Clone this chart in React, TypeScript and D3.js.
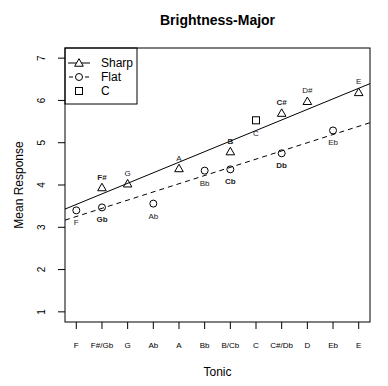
import * as d3 from 'd3'
import React from 'react'

const tonics = ['F', 'F#/Gb', 'G', 'Ab', 'A', 'Bb', 'B/Cb', 'C', 'C#/Db', 'D', 'Eb', 'E']
const yTicks = [1, 2, 3, 4, 5, 6, 7]

// sharp keys: position on the tonic axis (1-based), mean response, label, bold label
const sharpX = [2, 3, 5, 7, 9, 10, 12]
const sharpY = [3.94, 4.03, 4.39, 4.79, 5.7, 5.98, 6.19]
const sharpLabels = ['F#', 'G', 'A', 'B', 'C#', 'D#', 'E']
const sharpBold = [true, false, false, true, true, false, false]

const flatX = [1, 2, 4, 6, 7, 9, 11]
const flatY = [3.4, 3.47, 3.56, 4.34, 4.37, 4.75, 5.29]
const flatLabels = ['F', 'Gb', 'Ab', 'Bb', 'Cb', 'Db', 'Eb']
const flatBold = [false, true, false, false, true, true, false]

const cX = [8]
const cY = [5.53]
const cLabels = ['C']

const fit = (xs: number[], ys: number[]) => {
  const
    mx = d3.mean(xs)!,
    my = d3.mean(ys)!,
    sxy = d3.sum(xs, (x, i) => (x - mx) * (ys[i] - my)),
    sxx = d3.sum(xs, x => (x - mx) * (x - mx)),
    b = sxy / sxx
  return { a: my - b * mx, b }
}

const W = 388, H = 386
const m = { left: 65, right: 18, top: 48, bottom: 64 }
const font = '"Liberation Sans", Arial, Helvetica, sans-serif'

export default function App() {
  const
    x = d3.scaleLinear().domain([0.56, 12.44]).range([m.left, W - m.right]),
    y = d3.scaleLinear().domain([0.76, 7.24]).range([H - m.bottom, m.top]),
    [x0, x1] = x.domain(),
    sharpFit = fit(sharpX, sharpY),
    flatFit = fit(flatX, flatY),
    tri = (cx: number, cy: number) => {
      const s = 4.3
      return `M${cx},${cy - s}L${cx + s},${cy + s * 0.75}L${cx - s},${cy + s * 0.75}Z`
    },
    labelStyle = (bold: boolean) => ({ fontFamily: font, fontSize: 8, fontWeight: bold ? 'bold' : 'normal', fill: '#222' } as const)

  return (
    <svg width={W} height={H} style={{ position: 'absolute', left: 0, top: 0, background: '#fff', opacity: 0.999 }}>
      <defs>
        <clipPath id='plot'>
          <rect x={m.left} y={m.top} width={W - m.left - m.right} height={H - m.top - m.bottom} />
        </clipPath>
      </defs>
      <text x={(m.left + W - m.right) / 2} y={25} textAnchor='middle' fontFamily={font} fontSize={14} fontWeight='bold'>Brightness-Major</text>

      {/* y axis */}
      {yTicks.map(t => (
        <g key={t}>
          <line x1={m.left - 7} x2={m.left} y1={y(t)} y2={y(t)} stroke='#000' />
          <text transform={`translate(${m.left - 20},${y(t)}) rotate(-90)`} textAnchor='middle' fontFamily={font} fontSize={10}>{t}</text>
        </g>
      ))}
      <text transform={`translate(23,${(m.top + H - m.bottom) / 2}) rotate(-90)`} textAnchor='middle' fontFamily={font} fontSize={12}>Mean Response</text>

      {/* x axis */}
      {tonics.map((t, i) => (
        <g key={t}>
          <line x1={x(i + 1)} x2={x(i + 1)} y1={H - m.bottom} y2={H - m.bottom + 7} stroke='#000' />
          <text x={x(i + 1)} y={348} textAnchor='middle' fontFamily={font} fontSize={8}>{t}</text>
        </g>
      ))}
      <text x={(m.left + W - m.right) / 2} y={376} textAnchor='middle' fontFamily={font} fontSize={12}>Tonic</text>

      {/* regression lines */}
      <g clipPath='url(#plot)'>
        <line x1={x(x0)} x2={x(x1)} y1={y(sharpFit.a + sharpFit.b * x0)} y2={y(sharpFit.a + sharpFit.b * x1)} stroke='#000' />
        <line x1={x(x0)} x2={x(x1)} y1={y(flatFit.a + flatFit.b * x0)} y2={y(flatFit.a + flatFit.b * x1)} stroke='#000' strokeDasharray='5,4' />
      </g>

      {/* points */}
      {sharpX.map((v, i) => (
        <g key={'s' + i}>
          <path d={tri(x(v), y(sharpY[i]))} fill='none' stroke='#000' />
          <text x={x(v)} y={y(sharpY[i]) - 8} textAnchor='middle' {...labelStyle(sharpBold[i])}>{sharpLabels[i]}</text>
        </g>
      ))}
      {flatX.map((v, i) => (
        <g key={'f' + i}>
          <circle cx={x(v)} cy={y(flatY[i])} r={3.5} fill='none' stroke='#000' />
          <text x={x(v)} y={y(flatY[i]) + 15} textAnchor='middle' {...labelStyle(flatBold[i])}>{flatLabels[i]}</text>
        </g>
      ))}
      {cX.map((v, i) => (
        <g key={'c' + i}>
          <rect x={x(v) - 3.5} y={y(cY[i]) - 3.5} width={7} height={7} fill='none' stroke='#000' />
          <text x={x(v)} y={y(cY[i]) + 16} textAnchor='middle' {...labelStyle(false)}>{cLabels[i]}</text>
        </g>
      ))}

      {/* legend */}
      <rect x={m.left} y={m.top} width={72} height={56} fill='#fff' stroke='#000' />
      <line x1={68} x2={90} y1={63} y2={63} stroke='#000' />
      <path d={tri(79, 63)} fill='#fff' stroke='#000' />
      <text x={101} y={67} fontFamily={font} fontSize={12}>Sharp</text>
      <line x1={68} x2={90} y1={77} y2={77} stroke='#000' strokeDasharray='4,4' strokeDashoffset={-1} />
      <circle cx={79} cy={77} r={3.5} fill='#fff' stroke='#000' />
      <text x={101} y={81} fontFamily={font} fontSize={12}>Flat</text>
      <rect x={75.5} y={87.5} width={7} height={7} fill='none' stroke='#000' />
      <text x={101} y={95} fontFamily={font} fontSize={12}>C</text>

      {/* box */}
      <rect x={m.left} y={m.top} width={W - m.left - m.right} height={H - m.top - m.bottom} fill='none' stroke='#000' />
    </svg>
  )
}
